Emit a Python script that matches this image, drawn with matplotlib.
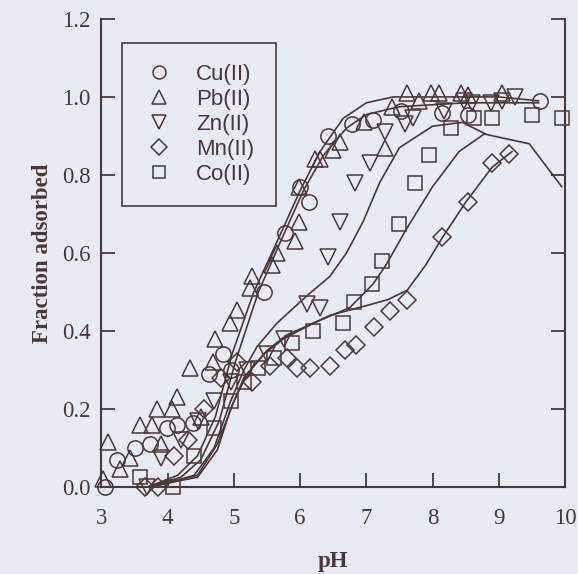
import matplotlib.pyplot as plt
import numpy as np

# measured points (pH, fraction adsorbed)
cu_ph = [3.05, 3.23, 3.5, 3.73, 3.99, 4.14, 4.38, 4.63, 4.83, 4.95, 5.45, 5.77, 6.0, 6.13,
         6.42, 6.78, 7.1, 7.53, 8.15, 8.53, 9.62]
cu_fr = [0.0, 0.07, 0.10, 0.11, 0.15, 0.16, 0.165, 0.29, 0.34, 0.30, 0.50, 0.65, 0.77, 0.73,
         0.90, 0.93, 0.94, 0.965, 0.96, 0.955, 0.99]

pb_ph = [3.02, 3.1, 3.28, 3.43, 3.58, 3.76, 3.84, 3.9, 4.07, 4.14, 4.33, 4.5, 4.68, 4.71,
         4.94, 5.05, 5.24, 5.28, 5.57, 5.65, 5.92, 5.98, 5.99, 6.22, 6.30, 6.5, 6.6, 6.97,
         7.28, 7.38, 7.62, 7.8, 7.98, 8.1, 8.43, 8.53, 9.05]
pb_fr = [0.02, 0.115, 0.045, 0.075, 0.16, 0.16, 0.20, 0.11, 0.20, 0.23, 0.305, 0.18, 0.32, 0.38,
         0.42, 0.455, 0.51, 0.54, 0.57, 0.60, 0.63, 0.68, 0.77, 0.84, 0.84, 0.865, 0.885, 0.935,
         0.87, 0.975, 1.01, 0.99, 1.01, 1.01, 1.01, 1.005, 1.01]

zn_ph = [3.69, 3.9, 4.2, 4.45, 4.7, 4.95, 5.2, 5.5, 5.75, 6.1, 6.3, 6.42, 6.6, 6.83, 7.05,
         7.28, 7.58, 7.7, 8.18, 8.48, 8.6, 8.88, 9.05, 9.24]
zn_fr = [0.0, 0.075, 0.12, 0.17, 0.22, 0.27, 0.30, 0.34, 0.38, 0.47, 0.46, 0.59, 0.68, 0.78, 0.83,
         0.91, 0.93, 0.945, 0.965, 0.99, 0.985, 0.985, 0.99, 1.0]

mn_ph = [3.65, 3.85, 4.1, 4.3, 4.55, 4.8, 5.05, 5.28, 5.55, 5.8, 5.95, 6.15, 6.45, 6.68, 6.85,
         7.12, 7.35, 7.62, 8.15, 8.53, 8.9, 9.16]
mn_fr = [0.0, 0.0, 0.08, 0.12, 0.20, 0.28, 0.32, 0.27, 0.31, 0.33, 0.305, 0.305, 0.31, 0.35, 0.365,
         0.41, 0.45, 0.48, 0.64, 0.73, 0.83, 0.855]

co_ph = [3.58, 4.08, 4.4, 4.7, 4.95, 5.15, 5.36, 5.6, 5.88, 6.2, 6.65, 6.82, 7.08, 7.23, 7.5,
         7.73, 7.95, 8.28, 8.63, 8.9, 9.5, 9.95]
co_fr = [0.025, 0.0, 0.08, 0.15, 0.22, 0.27, 0.305, 0.33, 0.37, 0.40, 0.42, 0.475, 0.52, 0.58, 0.675,
         0.78, 0.85, 0.92, 0.945, 0.945, 0.955, 0.945]

# model curves
pb_fit_ph = [3.7, 3.85, 4.15, 4.45, 4.72, 4.97, 5.3, 5.6, 6.0, 6.3, 6.65, 7.0, 7.4, 8.0, 9.0, 9.6]
pb_fit_fr = [0.0, 0.01, 0.03, 0.08, 0.18, 0.34, 0.50, 0.61, 0.76, 0.86, 0.945, 0.985, 1.0, 1.0, 1.0, 0.99]
cu_fit_ph = [3.7, 3.9, 4.2, 4.5, 4.78, 5.02, 5.37, 5.68, 6.05, 6.35, 6.7, 7.0, 7.5, 8.5, 9.6]
cu_fit_fr = [0.0, 0.01, 0.025, 0.07, 0.17, 0.32, 0.50, 0.62, 0.76, 0.85, 0.92, 0.955, 0.975, 0.985, 0.985]
zn_fit_ph = [3.7, 4.0, 4.4, 4.7, 4.95, 5.15, 5.35, 5.65, 6.1, 6.45, 6.7, 6.95, 7.2, 7.5, 8.0, 8.45, 8.8]
zn_fit_fr = [0.0, 0.01, 0.03, 0.10, 0.22, 0.30, 0.36, 0.42, 0.49, 0.54, 0.60, 0.68, 0.78, 0.87, 0.925, 0.935, 0.905]
co_fit_ph = [3.7, 4.0, 4.45, 4.75, 4.95, 5.15, 5.45, 5.75, 6.2, 6.75, 7.1, 7.3, 7.6, 8.0, 8.4, 8.78, 9.46, 9.95]
co_fit_fr = [0.0, 0.01, 0.025, 0.095, 0.20, 0.28, 0.34, 0.38, 0.42, 0.46, 0.52, 0.57, 0.66, 0.77, 0.86, 0.905, 0.88, 0.77]
mn_fit_ph = [3.7, 4.0, 4.45, 4.75, 5.0, 5.2, 5.5, 5.8, 6.2, 6.45, 7.0, 7.32, 7.62, 7.9, 8.15, 8.5, 8.9, 9.2]
mn_fit_fr = [0.0, 0.01, 0.03, 0.11, 0.22, 0.29, 0.35, 0.39, 0.42, 0.44, 0.465, 0.48, 0.505, 0.57, 0.64, 0.73, 0.82, 0.86]

ink = '#4a3838'
bg = '#e8ebf3'

fig = plt.figure(figsize=(5.78, 5.74), dpi=100, facecolor=bg)
ax = fig.add_axes([0.1756, 0.1516, 0.8019, 0.8154])
ax.set_facecolor(bg)

for xs, ys in [(pb_fit_ph, pb_fit_fr), (cu_fit_ph, cu_fit_fr), (zn_fit_ph, zn_fit_fr),
               (co_fit_ph, co_fit_fr), (mn_fit_ph, mn_fit_fr)]:
    ax.plot(xs, ys, color=ink, lw=1.2, zorder=2)

mk = dict(ls='none', mfc='none', mec=ink, mew=1.1, zorder=3, clip_on=False)
ax.plot(cu_ph, cu_fr, marker='o', ms=11, label='Cu(II)', **mk)
ax.plot(pb_ph, pb_fr, marker='^', ms=12, label='Pb(II)', **mk)
ax.plot(zn_ph, zn_fr, marker='v', ms=12, label='Zn(II)', **mk)
ax.plot(mn_ph, mn_fr, marker='D', ms=9, label='Mn(II)', **mk)
ax.plot(co_ph, co_fr, marker='s', ms=10, label='Co(II)', **mk)

ax.set_xlim(3, 10)
ax.set_ylim(0, 1.2)
ax.set_xticks(np.arange(3, 11, 1))
ax.set_yticks(np.arange(0, 1.21, 0.2))
ax.set_yticklabels(['%.1f' % v for v in np.arange(0, 1.21, 0.2)])

serif = 'Liberation Serif'
ax.tick_params(direction='in', length=10, width=1.3, color=ink, labelcolor=ink,
               right=True, top=False, labelsize=16.5)
ax.tick_params(axis='x', pad=15)
ax.tick_params(axis='y', pad=8)
for lab in ax.get_xticklabels() + ax.get_yticklabels():
    lab.set_family(serif)

for side in ['left', 'bottom', 'right']:
    ax.spines[side].set_color(ink)
    ax.spines[side].set_linewidth(1.5)
ax.spines['top'].set_visible(False)

ax.set_xlabel('pH', family=serif, fontsize=16.5, fontweight='bold', color=ink, labelpad=16)
ax.set_ylabel('Fraction adsorbed', family=serif, fontsize=16.5, fontweight='bold', color=ink,
              labelpad=6)

leg = ax.legend(loc='upper left', bbox_to_anchor=(0.044, 0.949), borderaxespad=0,
                frameon=True, fancybox=False, edgecolor=ink, facecolor=bg, framealpha=1,
                prop={'family': 'Liberation Sans', 'size': 16}, labelcolor=ink,
                handletextpad=0.95, labelspacing=0.18, borderpad=0.95, handlelength=1.45,
                markerscale=0.85)
leg.get_frame().set_linewidth(1.2)

fig.savefig('out.png', dpi=100, facecolor=bg)
